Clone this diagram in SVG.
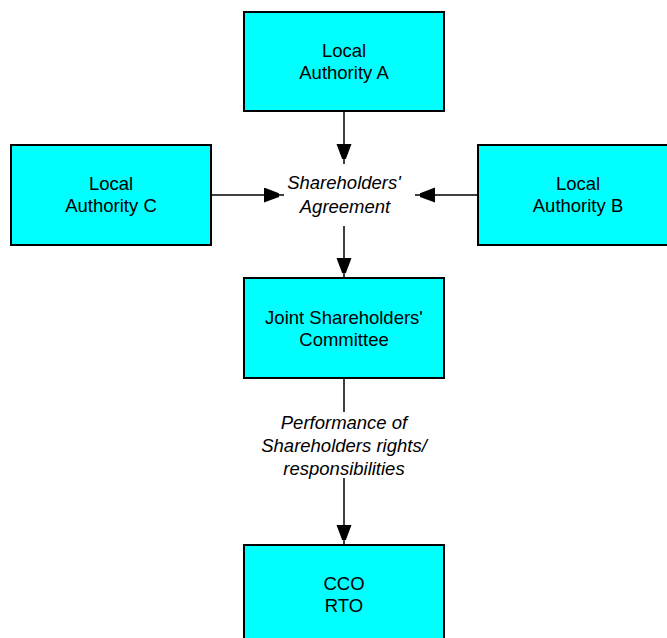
<svg xmlns="http://www.w3.org/2000/svg" width="667" height="638" viewBox="0 0 667 638">
  <style>
    .box { fill: #00ffff; stroke: #000; stroke-width: 2; }
    .t { font-family: "Liberation Sans", Arial, sans-serif; font-size: 18.5px; fill: #000; text-anchor: middle; }
    .lbl { font-style: italic; }
    .edge { stroke: #000; stroke-width: 1.5; fill: none; marker-end: url(#arrow); }
  </style>
  <defs>
    <marker id="arrow" markerWidth="15" markerHeight="20" refX="20" refY="7.5" orient="auto" markerUnits="userSpaceOnUse">
      <path d="M0,0 L20,7.5 L0,15 Z" fill="#000"/>
    </marker>
  </defs>
  <rect width="667" height="638" fill="#fff"/>

  <g id="connectors">
    <line class="edge" x1="344" y1="112" x2="344" y2="164"/>
    <line class="edge" x1="212" y1="195" x2="284" y2="195"/>
    <line class="edge" x1="477" y1="195" x2="415" y2="195"/>
    <line class="edge" x1="344" y1="226" x2="344" y2="278"/>
    <line x1="344" y1="379" x2="344" y2="412" stroke="#000" stroke-width="1.5"/>
    <line class="edge" x1="344" y1="478" x2="344" y2="545"/>
  </g>

  <g id="agreement-label">
    <text class="t lbl" x="344" y="189">Shareholders'</text>
    <text class="t lbl" x="345" y="213">Agreement</text>
  </g>

  <g id="performance-label">
    <text class="t lbl" x="344" y="429">Performance of</text>
    <text class="t lbl" x="344" y="452">Shareholders rights/</text>
    <text class="t lbl" x="344" y="475">responsibilities</text>
  </g>

  <g id="authority-a">
    <rect class="box" x="244" y="12" width="200" height="99"/>
    <text class="t" x="344" y="57">Local</text>
    <text class="t" x="344" y="79">Authority A</text>
  </g>

  <g id="authority-c">
    <rect class="box" x="11" y="145" width="200" height="100"/>
    <text class="t" x="111" y="190">Local</text>
    <text class="t" x="111" y="212">Authority C</text>
  </g>

  <g id="authority-b">
    <rect class="box" x="478" y="145" width="200" height="100"/>
    <text class="t" x="578" y="190">Local</text>
    <text class="t" x="578" y="212">Authority B</text>
  </g>

  <g id="committee">
    <rect class="box" x="244" y="278" width="200" height="100"/>
    <text class="t" x="344" y="324">Joint Shareholders'</text>
    <text class="t" x="344" y="346">Committee</text>
  </g>

  <g id="cco-rto">
    <rect class="box" x="244" y="545" width="200" height="100"/>
    <text class="t" x="344" y="590">CCO</text>
    <text class="t" x="344" y="612">RTO</text>
  </g>
</svg>
